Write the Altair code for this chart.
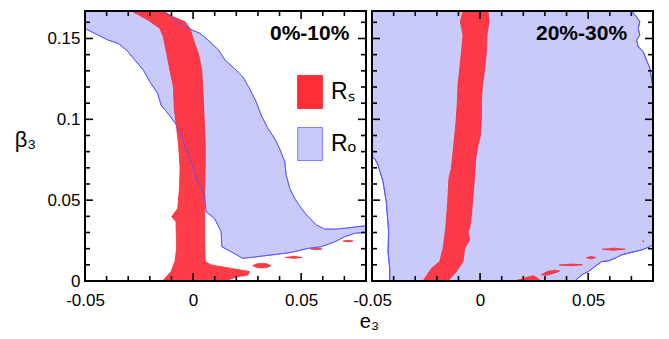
import altair as alt
import pandas as pd

# ---------------- data ----------------
X_DOMAIN = [-0.05, 0.08]
Y_DOMAIN = [0, 0.167]
X_MAJOR = [-0.05, 0, 0.05]
X_MINOR = [-0.04, -0.03, -0.02, -0.01, 0.01, 0.02, 0.03, 0.04, 0.06, 0.07]
Y_MAJOR = [0, 0.05, 0.1, 0.15]
Y_MINOR = [0.01, 0.02, 0.03, 0.04, 0.06, 0.07, 0.08, 0.09, 0.11, 0.12, 0.13, 0.14, 0.16]
REGIONS = ["R\u209b", "R\u2092"]

# panel 1 (0%-10%): R_o region outline
L_BLUE_X = [-0.05, -0.0138, -0.0084, -0.0022, 0.0033, 0.0079, 0.0118, 0.0148, 0.0192, 0.0230,
            0.0261, 0.0292, 0.0315, 0.0346, 0.0377, 0.0400, 0.0424, 0.0431, 0.0447, 0.0470,
            0.0501, 0.0532, 0.0571, 0.0609, 0.0656, 0.0702, 0.0748, 0.08,
            0.08, 0.0748, 0.0702, 0.0656, 0.0594, 0.0532, 0.0455, 0.0362, 0.0269, 0.0230,
            0.0176, 0.0133, 0.0130, 0.0122, 0.0099, 0.0060, 0.0053, 0.0022, -0.0009, -0.0033,
            -0.0048, -0.0071, -0.0110, -0.0148, -0.0164, -0.0195, -0.0230, -0.0269, -0.0308,
            -0.0346, -0.0393, -0.0454, -0.05]
L_BLUE_Y = [0.167, 0.167, 0.1613, 0.1562, 0.1531, 0.1479, 0.1428, 0.1366, 0.1314, 0.1263,
            0.1191, 0.1108, 0.1026, 0.0944, 0.0882, 0.0820, 0.0738, 0.0655, 0.0573, 0.0511,
            0.0449, 0.0398, 0.0346, 0.0321, 0.0321, 0.0326, 0.0334, 0.0342,
            0.0301, 0.0295, 0.0274, 0.0243, 0.0212, 0.0202, 0.0177, 0.0161, 0.0146, 0.0140,
            0.0181, 0.0212, 0.0305, 0.0326, 0.0387, 0.0428, 0.0532, 0.0614, 0.0738, 0.0820,
            0.0882, 0.0954, 0.1026, 0.1088, 0.1160, 0.1222, 0.1304, 0.1366, 0.1428,
            0.1469, 0.1490, 0.1531, 0.1562]

# panel 1: R_s main band
L_RED_X = [-0.0285, -0.0207, -0.0153, -0.0138, -0.0122, -0.0107, -0.0091, -0.0087, -0.0076, -0.0067,
           -0.0060, -0.0063, -0.0071, -0.0099, -0.0079, -0.0076, -0.0084, -0.0102, -0.0141, 0.0145,
           0.0207, 0.0254, 0.0261, 0.0176, 0.0084, 0.0056, 0.0053, 0.0053, 0.0056, 0.0056,
           0.0048, 0.0040, 0.0025, 0.0002, -0.0014, -0.0037, -0.0091, -0.0138]
L_RED_Y = [0.167, 0.1613, 0.1562, 0.1510, 0.1407, 0.1304, 0.1201, 0.1067, 0.0944, 0.0841,
           0.0696, 0.0573, 0.0449, 0.0398, 0.0367, 0.0202, 0.0120, 0.0058, 0.0, 0.0,
           0.0027, 0.0037, 0.0058, 0.0078, 0.0099, 0.0120, 0.0284, 0.0490, 0.0696, 0.0861,
           0.1109, 0.1304, 0.1407, 0.1490, 0.1562, 0.1603, 0.1634, 0.167]

# panel 1: small R_s islands
L_BLOBS_X = [[0.0276, 0.0295, 0.0318, 0.0342, 0.0360, 0.0342, 0.0318, 0.0295],
             [0.0428, 0.0466, 0.0504, 0.0466],
             [0.0544, 0.0570, 0.0597, 0.0570],
             [0.0694, 0.0717, 0.0740, 0.0717]]
L_BLOBS_Y = [[0.0095, 0.0106, 0.0109, 0.0106, 0.0095, 0.0084, 0.0081, 0.0084],
             [0.0146, 0.0153, 0.0146, 0.0140],
             [0.0198, 0.0204, 0.0198, 0.0193],
             [0.0247, 0.0252, 0.0247, 0.0242]]

# panel 2 (20%-30%): R_o region outline
R_BLUE_X = [-0.05, 0.0701, 0.0724, 0.0739, 0.0732, 0.0739, 0.0724, 0.0732, 0.0755, 0.0770,
            0.0786, 0.0793, 0.08, 0.08, 0.0786, 0.0747, 0.0701, 0.0654, 0.0624, 0.0593,
            0.0562, 0.0531, 0.0500, 0.0469, 0.0438, -0.0418, -0.0418, -0.0426, -0.0423, -0.0434,
            -0.0449, -0.0472, -0.0488, -0.05]
R_BLUE_Y = [0.167, 0.167, 0.1634, 0.1603, 0.1562, 0.1521, 0.1490, 0.1449, 0.1418, 0.1366,
            0.1315, 0.1253, 0.1191, 0.0227, 0.0212, 0.0192, 0.0177, 0.0161, 0.0140, 0.0124,
            0.0120, 0.0089, 0.0058, 0.0037, 0.0, 0.0, 0.0078, 0.0181, 0.0305, 0.0490,
            0.0614, 0.0717, 0.0758, 0.0763]

# panel 2: R_s band
R_RED_X = [-0.0079, -0.0091, -0.0079, -0.0086, -0.0094, -0.0102, -0.0105, -0.0110, -0.0117, -0.0125,
           -0.0133, -0.0144, -0.0148, -0.0153, -0.0159, -0.0171, -0.0187, -0.0225, -0.0264,
           -0.0148, -0.0110, -0.0079, -0.0071, -0.0048, -0.0056, -0.0048, -0.0040, -0.0032, -0.0025,
           -0.0020, -0.0009, 0.0002, 0.0006, 0.0006, 0.0011, 0.0022, 0.0029, 0.0032, 0.0042, 0.0037]
R_RED_Y = [0.167, 0.1603, 0.1521, 0.1418, 0.1315, 0.1212, 0.1109, 0.1006, 0.0903, 0.0800,
           0.0696, 0.0635, 0.0532, 0.0429, 0.0326, 0.0202, 0.0120, 0.0078, 0.0,
           0.0, 0.0058, 0.0120, 0.0202, 0.0253, 0.0305, 0.0326, 0.0408, 0.0532, 0.0655,
           0.0758, 0.0841, 0.0903, 0.1006, 0.1109, 0.1212, 0.1315, 0.1418, 0.1521, 0.1603, 0.167]

# panel 2: small R_s islands
R_BLOBS_X = [[0.0161, 0.0199, 0.0245, 0.0269, 0.0279],
             [0.0283, 0.0310, 0.0345, 0.0369, 0.0345, 0.0310],
             [0.0366, 0.0420, 0.0474, 0.0420],
             [0.0492, 0.0514, 0.0536, 0.0514],
             [0.0565, 0.0617, 0.0670, 0.0617],
             [0.0752, 0.0756, 0.0758, 0.0754]]
R_BLOBS_Y = [[0.0, 0.0016, 0.0033, 0.0016, 0.0],
             [0.0038, 0.0058, 0.0067, 0.0062, 0.0050, 0.0036],
             [0.0099, 0.0105, 0.0100, 0.0094],
             [0.0144, 0.0152, 0.0144, 0.0137],
             [0.0196, 0.0203, 0.0197, 0.0190],
             [0.0248, 0.0250, 0.0246, 0.0244]]

PANEL_LABELS = ["0%-10%", "20%-30%"]
LABEL_X = [0.0723, 0.0680]
LABEL_Y = [0.149, 0.149]

# ---------------- styling ----------------
W, H = 281, 270
RED = "#ff2d38"
RED_EDGE = "#f0303a"
BLUE_FILL = "#c9c9fa"
BLUE_LINE = "#5555ff"
FONT = "Liberation Sans"


def polys(xs_list, ys_list, region):
    frames = []
    for i, (xs, ys) in enumerate(zip(xs_list, ys_list)):
        frames.append(pd.DataFrame({"x": xs, "y": ys, "order": list(range(len(xs))),
                                    "pid": i, "region": region}))
    return pd.concat(frames, ignore_index=True)


label_expr = "'' + datum.value"


def panel(blue_x, blue_y, red_xs, red_ys, label, lx, ly, first):
    x_axis = alt.Axis(values=X_MAJOR, labelExpr=label_expr, ticks=False, domain=False, grid=False,
                      labelFontSize=17, labelPadding=11, labelFlush=False,
                      title="e\u2083" if first else None,
                      titleX=284, titleY=46, titleAlign="center", titleBaseline="alphabetic",
                      titleFontSize=20, titleFontWeight="normal")
    if first:
        y_axis = alt.Axis(values=Y_MAJOR, labelExpr=label_expr, ticks=False, domain=False, grid=False,
                          labelFontSize=17, labelPadding=5, title="\u03b2\u2083", titleAngle=0,
                          titleX=-60, titleY=135, titleAlign="center", titleBaseline="alphabetic",
                          titleFontSize=22, titleFontWeight="normal")
    else:
        y_axis = None

    def X(field):
        return alt.X(f"{field}:Q", scale=alt.Scale(domain=X_DOMAIN, nice=False, zero=False), axis=x_axis)

    def Y(field):
        return alt.Y(f"{field}:Q", scale=alt.Scale(domain=Y_DOMAIN, nice=False, zero=False), axis=y_axis)

    blue_df = polys([blue_x], [blue_y], REGIONS[1])
    red_df = polys(red_xs, red_ys, REGIONS[0])

    if first:
        fill_scale = alt.Scale(domain=REGIONS, range=[RED, BLUE_FILL])
        stroke_scale = alt.Scale(domain=REGIONS, range=[RED_EDGE, "#7f7fff"])
        leg = alt.Legend(orient="none", legendX=208, legendY=64, title=None,
                         symbolType="M-0.75,-1L0.75,-1L0.75,1L-0.75,1Z", symbolSize=1089,
                         symbolStrokeWidth=1, symbolOpacity=1, labelFontSize=23, labelFont=FONT,
                         rowPadding=14, labelOffset=4, padding=0)
        blue = alt.Chart(blue_df).mark_line(interpolate="linear-closed", strokeWidth=1).encode(
            x=X("x"), y=Y("y"), order="order:Q",
            fill=alt.Fill("region:N", scale=fill_scale, legend=leg),
            stroke=alt.Stroke("region:N", scale=stroke_scale, legend=leg))
        red = alt.Chart(red_df).mark_line(interpolate="linear-closed", strokeWidth=0.8,
                                          fillOpacity=0.92).encode(
            x=X("x"), y=Y("y"), order="order:Q", detail="pid:N",
            fill=alt.Fill("region:N", scale=fill_scale, legend=leg),
            stroke=alt.Stroke("region:N", scale=stroke_scale, legend=leg))
    else:
        blue = alt.Chart(blue_df).mark_line(interpolate="linear-closed", strokeWidth=1,
                                            fill=BLUE_FILL, stroke=BLUE_LINE).encode(
            x=X("x"), y=Y("y"), order="order:Q")
        red = alt.Chart(red_df).mark_line(interpolate="linear-closed", strokeWidth=0.8,
                                          fill=RED, stroke=RED_EDGE, fillOpacity=0.92).encode(
            x=X("x"), y=Y("y"), order="order:Q", detail="pid:N")

    # the R_o boundary line stays visible where it crosses the R_s band
    outline = alt.Chart(blue_df).mark_line(interpolate="linear-closed", strokeWidth=1,
                                           color=BLUE_LINE, opacity=0.85).encode(
        x=X("x"), y=Y("y"), order="order:Q")

    text = alt.Chart(pd.DataFrame({"x": [lx], "y": [ly], "t": [label]})).mark_text(
        align="right", baseline="alphabetic", fontSize=21, fontWeight="bold", font=FONT,
        color="black").encode(x=X("x"), y=Y("y"), text="t:N")

    layers = [blue, red, outline, text]
    tick_color = "black"
    for vals, ln in [(X_MAJOR, 8), (X_MINOR, 5)]:
        d = pd.DataFrame({"v": vals})
        layers.append(alt.Chart(d).mark_rule(color=tick_color, strokeWidth=1.6).encode(
            x=X("v"), y=alt.value(H), y2=alt.value(H - ln)))
        layers.append(alt.Chart(d).mark_rule(color=tick_color, strokeWidth=1.6).encode(
            x=X("v"), y=alt.value(0), y2=alt.value(ln)))
    for vals, ln in [(Y_MAJOR, 8), (Y_MINOR, 5)]:
        d = pd.DataFrame({"v": vals})
        layers.append(alt.Chart(d).mark_rule(color=tick_color, strokeWidth=1.6).encode(
            y=Y("v"), x=alt.value(0), x2=alt.value(ln)))
        layers.append(alt.Chart(d).mark_rule(color=tick_color, strokeWidth=1.6).encode(
            y=Y("v"), x=alt.value(W), x2=alt.value(W - ln)))
    frame = alt.Chart(pd.DataFrame({"a": [0]})).mark_rect(
        fillOpacity=0, stroke="black", strokeWidth=2).encode(
        x=alt.value(0), x2=alt.value(W), y=alt.value(0), y2=alt.value(H))
    layers.append(frame)
    return alt.layer(*layers).properties(width=W, height=H)


left = panel(L_BLUE_X, L_BLUE_Y, [L_RED_X] + L_BLOBS_X, [L_RED_Y] + L_BLOBS_Y,
             PANEL_LABELS[0], LABEL_X[0], LABEL_Y[0], True)
right = panel(R_BLUE_X, R_BLUE_Y, [R_RED_X] + R_BLOBS_X, [R_RED_Y] + R_BLOBS_Y,
              PANEL_LABELS[1], LABEL_X[1], LABEL_Y[1], False)

chart = alt.hconcat(left, right, spacing=6, bounds="flush").resolve_scale(
    fill="independent", stroke="independent"
).properties(
    padding={"left": 6, "top": 1, "right": 0, "bottom": 0}
).configure(font=FONT).configure_view(strokeWidth=0)

chart.save("out.html", embed_options={"renderer": "svg", "actions": False})
